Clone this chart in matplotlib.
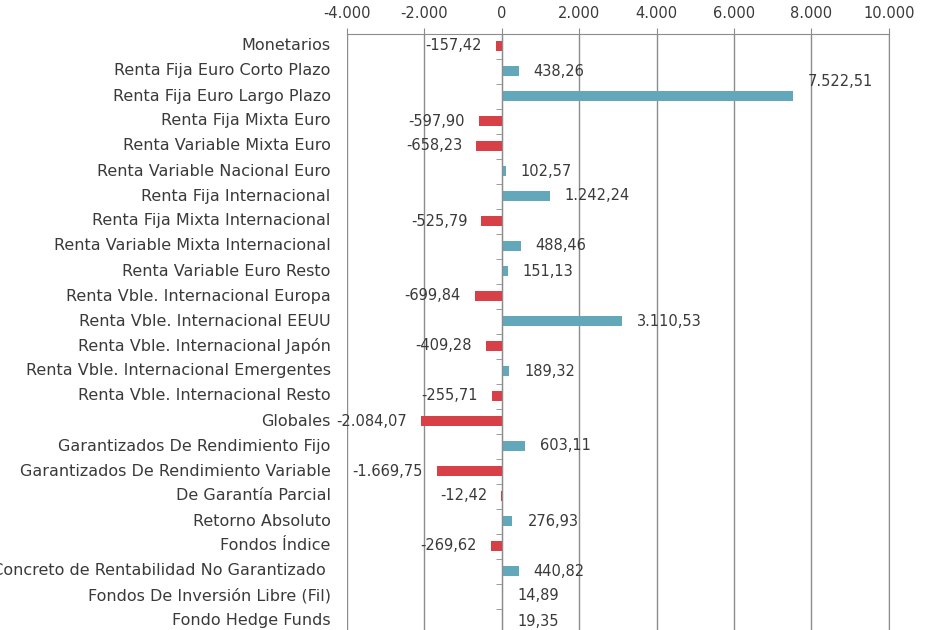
import matplotlib
matplotlib.use("Agg")
import matplotlib.pyplot as plt
import matplotlib.transforms as mtransforms
import numpy as np

# categorias y suscripciones netas (millones de euros)
categorias = [
    "Monetarios",
    "Renta Fija Euro Corto Plazo",
    "Renta Fija Euro Largo Plazo",
    "Renta Fija Mixta Euro",
    "Renta Variable Mixta Euro",
    "Renta Variable Nacional Euro",
    "Renta Fija Internacional",
    "Renta Fija Mixta Internacional",
    "Renta Variable Mixta Internacional",
    "Renta Variable Euro Resto",
    "Renta Vble. Internacional Europa",
    "Renta Vble. Internacional EEUU",
    "Renta Vble. Internacional Japón",
    "Renta Vble. Internacional Emergentes",
    "Renta Vble. Internacional Resto",
    "Globales",
    "Garantizados De Rendimiento Fijo",
    "Garantizados De Rendimiento Variable",
    "De Garantía Parcial",
    "Retorno Absoluto",
    "Fondos Índice",
    "Objetivo Concreto de Rentabilidad No Garantizado ",
    "Fondos De Inversión Libre (Fil)",
    "Fondo Hedge Funds",
]
valores = [-157.42, 438.26, 7522.51, -597.90, -658.23, 102.57, 1242.24,
           -525.79, 488.46, 151.13, -699.84, 3110.53, -409.28, 189.32,
           -255.71, -2084.07, 603.11, -1669.75, -12.42, 276.93, -269.62,
           440.82, 14.89, 19.35]
xticks = [-4000, -2000, 0, 2000, 4000, 6000, 8000, 10000]

ROJO = "#d64046"
AZUL = "#62a7ba"
GRIS = "#8c8c8c"
TEXTO = "#3a3a3a"

def fmt(v, dec=2):
    s = f"{abs(v):,.{dec}f}".replace(",", "X").replace(".", ",").replace("X", ".")
    return ("-" if v < 0 else "") + s

W, H = 930, 630
fig = plt.figure(figsize=(W / 100, H / 100), dpi=100)
top_px, bot_px = 33.5, 633.5
ax = fig.add_axes([346.8 / W, 1 - bot_px / H, 542 / W, (bot_px - top_px) / H])

n = len(categorias)
y = np.arange(n)
colores = [ROJO if v < 0 else AZUL for v in valores]
ax.barh(y, valores, height=0.42, color=colores, zorder=3)

ax.set_xlim(-4000, 10000)
ax.set_ylim(n - 0.5, -0.5)
ax.xaxis.tick_top()
ax.set_xticks(xticks)
ax.set_xticklabels([fmt(t, 0) for t in xticks], fontsize=10.5, color=TEXTO)
ax.tick_params(axis="x", length=4, color=GRIS, pad=5)
ax.grid(axis="x", color=GRIS, linewidth=1, zorder=0)

ax.spines["bottom"].set_visible(False)
ax.spines["right"].set_color(GRIS)
ax.spines["top"].set_color(GRIS)
ax.spines["left"].set_position(("data", 0))
ax.spines["left"].set_color(GRIS)
ax.spines["left"].set_zorder(4)
ax.set_yticks(y)
ax.set_yticklabels([])
ax.tick_params(axis="y", which="major", length=0)
ax.set_yticks(np.arange(n + 1) - 0.5, minor=True)
ax.tick_params(axis="y", which="minor", length=4, color=GRIS, direction="out")

# etiquetas de categorias a la izquierda
trans = mtransforms.blended_transform_factory(ax.transAxes, ax.transData)
for i, c in enumerate(categorias):
    ax.text(-0.03, i, c, transform=trans, ha="right", va="center",
            fontsize=11.5, color=TEXTO)

# etiquetas de valor
for i, v in enumerate(valores):
    if v >= 0:
        dx, ha = 15, "left"
    else:
        dx, ha = -14, "right"
    dy = 0
    if v > 7000:
        dy = 14
    off = mtransforms.offset_copy(ax.transData, fig=fig, x=dx * 0.72, y=dy * 0.72, units="points")
    ax.text(v, i, fmt(v), transform=off, ha=ha, va="center",
            fontsize=10.5, color=TEXTO, zorder=5)

fig.savefig("out.png", dpi=100)
